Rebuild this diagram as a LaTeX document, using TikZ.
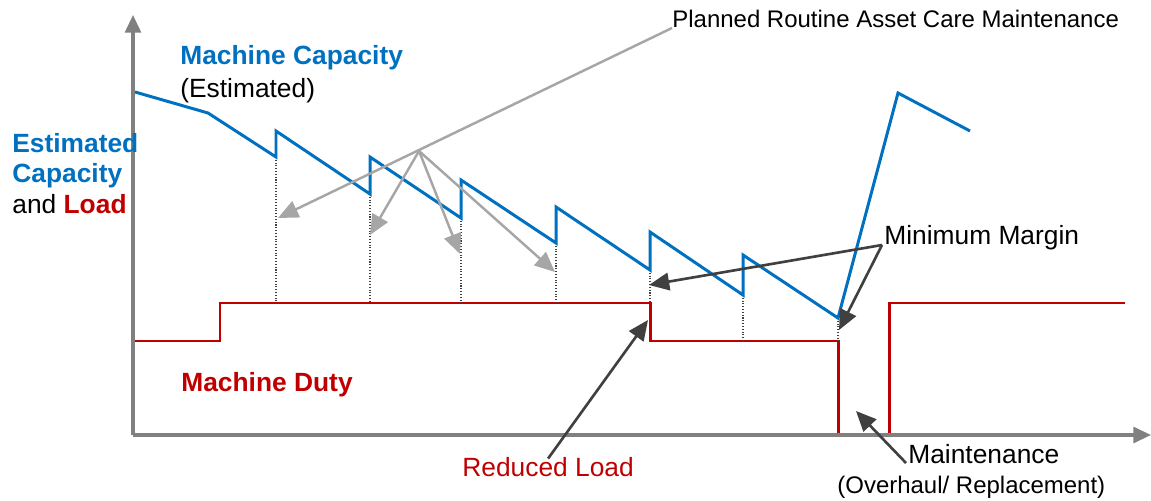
\documentclass[tikz,border=0pt]{standalone}
\usepackage{fontspec}
\setmainfont{Liberation Sans}
\usepackage{tikz}
\usetikzlibrary{arrows.meta}
\definecolor{capblue}{RGB}{0,112,192}
\definecolor{dutyred}{RGB}{192,0,0}
\definecolor{axisgray}{RGB}{128,128,128}
\definecolor{caregray}{RGB}{166,166,166}
\definecolor{notegray}{RGB}{64,64,64}

\begin{document}
\begin{tikzpicture}[x=0.02cm, y=-0.02cm,
    axis/.style={draw=axisgray, line width=1.8pt, -{Triangle[length=10pt, width=9pt]}},
    capline/.style={draw=capblue, line width=1.7pt},
    dutyline/.style={draw=dutyred, line width=1.7pt},
    drop/.style={draw=black!75, line width=0.6pt, densely dotted},
    careptr/.style={draw=caregray, line width=1.4pt, -{Triangle[length=11.5pt, width=10pt]}},
    noteptr/.style={draw=notegray, line width=1.5pt, -{Triangle[length=11.5pt, width=10pt]}},
    lbl/.style={inner sep=0pt, anchor=base west, font=\fontsize{15}{18}\selectfont},
    smalllbl/.style={inner sep=0pt, anchor=base west, font=\fontsize{13.65}{16}\selectfont}]
                    \useasboundingbox (0,0) rectangle (1151,500);

                    \draw[dutyline] (135,341) -- (220,341) -- (220,303) -- (650,303) -- (650,341) -- (838,341) -- (838,435);
                    \draw[dutyline] (889,435) -- (889,303) -- (1125,303);

                    \foreach \x/\ya/\yb in {276/157/303, 370/194/303, 461/218/303, 556/243/303, 650/270/303, 743/295/341, 838/318/341}
                        \draw[drop] (\x,\ya) -- (\x,\yb);

                    \draw[capline] (135,92) -- (208,113) -- (276,157) -- (276,131) -- (370,194) -- (370,157)
                        -- (461,218) -- (461,180) -- (556,243) -- (556,207) -- (650,270) -- (650,232)
                        -- (743,295) -- (743,255) -- (838,318) -- (898,93) -- (970,131);

                    \draw
                        (133,435) coordinate (O)
                        (133,15) coordinate (ytip)
                        (1151,435) coordinate (xtip)
                        (419,151) coordinate (hub)
                        (278,218) coordinate (care1)
                        (370,235) coordinate (care2)
                        (460,254) coordinate (care3)
                        (555,272) coordinate (care4)
                        (882,245) coordinate (apex)
                        (649,285) coordinate (margin1)
                        (839,330) coordinate (margin2)
                        (648,320) coordinate (stepdown)
                        (856,411) coordinate (gap)
                    ;
                    \draw[axis] (O) -- (ytip);
                    \draw[axis] (O) -- (xtip);

                    \path
                        (180,65) node[lbl, text=capblue](capttl){\bfseries Machine Capacity}
                        (180,97) node[lbl](capest){(Estimated)}
                        (12,152) node[lbl, text=capblue](ylbla){\bfseries Estimated}
                        (12,182) node[lbl, text=capblue](ylblb){\bfseries Capacity}
                        (12,213) node[lbl](ylblc){and \textcolor{dutyred}{\bfseries Load}}
                        (181,391) node[lbl, text=dutyred](duty){\bfseries Machine Duty}
                        (672,28) node[smalllbl](care){Planned Routine Asset Care Maintenance}
                        (884,244) node[lbl](margin){Minimum Margin}
                        (462,476) node[lbl, text=dutyred](reduced){Reduced Load}
                        (908,463) node[lbl](maint){Maintenance}
                        (837,493) node[smalllbl](overhaul){(Overhaul/ Replacement)}
                    ;

                    \draw[careptr] (care.base west) -- (care1);
                    \draw[careptr] (hub) -- (care2);
                    \draw[careptr] (hub) -- (care3);
                    \draw[careptr] (hub) -- (care4);
                    \draw[noteptr] (apex) -- (margin1);
                    \draw[noteptr] (apex) -- (margin2);
                    \draw[noteptr] ([yshift=-0.04cm]reduced.north) -- (stepdown);
                    \draw[noteptr] ([xshift=-0.04cm]maint.base west) -- (gap);

                \end{tikzpicture}
\end{document}
